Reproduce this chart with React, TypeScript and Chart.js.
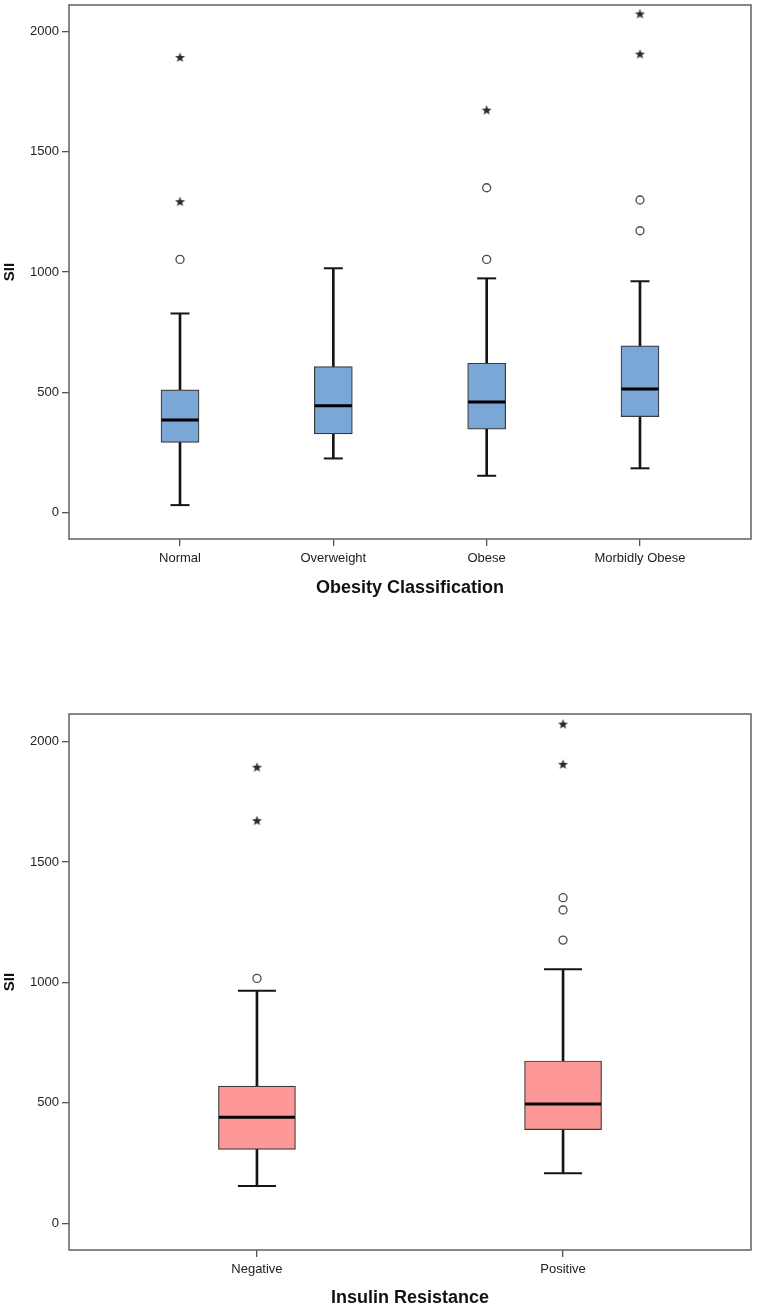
import React, { useEffect, useRef } from 'react';
import { Chart, registerables } from 'chart.js';

Chart.register(...registerables);

// ---------- Data: Obesity Classification ----------
const obesityCategories = ['Normal', 'Overweight', 'Obese', 'Morbidly Obese'];
const obesityWhiskerLow = [31, 225, 153, 184];
const obesityQ1 = [292, 327, 347, 399];
const obesityMedian = [385, 444, 460, 514];
const obesityQ3 = [510, 607, 621, 693];
const obesityWhiskerHigh = [828, 1016, 974, 962];
const obesityOutliers = [[1053], [], [1053, 1351], [1172, 1300]];
const obesityExtremes = [[1293, 1893], [], [1674], [1907, 2074]];

// ---------- Data: Insulin Resistance ----------
const insulinCategories = ['Negative', 'Positive'];
const insulinWhiskerLow = [155, 208];
const insulinQ1 = [307, 389];
const insulinMedian = [440, 495];
const insulinQ3 = [570, 674];
const insulinWhiskerHigh = [966, 1055];
const insulinOutliers = [[1017], [1176, 1301, 1352]];
const insulinExtremes = [[1672, 1894], [1906, 2073]];

const yTickValues = [0, 500, 1000, 1500, 2000];

const TICK_FONT = { family: "'Liberation Sans', Arial, sans-serif", size: 13 };
const TITLE_FONT = { family: "'Liberation Sans', Arial, sans-serif", size: 18, weight: 'bold' as const };
const YTITLE_FONT = { family: "'Liberation Sans', Arial, sans-serif", size: 15, weight: 'bold' as const };

function makeStar(color: string): HTMLCanvasElement {
  const c = document.createElement('canvas');
  c.width = 11;
  c.height = 11;
  const ctx = c.getContext('2d')!;
  const cx = 5.5, cy = 5.8, R = 5.3, r = 2.2;
  ctx.beginPath();
  for (let i = 0; i < 10; i++) {
    const rad = i % 2 === 0 ? R : r;
    const a = -Math.PI / 2 + (i * Math.PI) / 5;
    const px = cx + rad * Math.cos(a);
    const py = cy + rad * Math.sin(a);
    if (i === 0) ctx.moveTo(px, py);
    else ctx.lineTo(px, py);
  }
  ctx.closePath();
  ctx.fillStyle = color;
  ctx.fill();
  return c;
}

const framePlugin = {
  id: 'frame',
  beforeDatasetsDraw(chart: any) {
    const { ctx, chartArea } = chart;
    ctx.save();
    ctx.strokeStyle = '#6a6a6a';
    ctx.lineWidth = 1.6;
    ctx.strokeRect(chartArea.left, chartArea.top, chartArea.right - chartArea.left, chartArea.bottom - chartArea.top);
    ctx.restore();
  },
};

function zeroPadding(sc: any) {
  sc.paddingLeft = 0;
  sc.paddingRight = 0;
  sc.paddingTop = 0;
  sc.paddingBottom = 0;
}

interface Spec {
  categories: string[];
  low: number[];
  q1: number[];
  median: number[];
  q3: number[];
  high: number[];
  outliers: number[][];
  extremes: number[][];
  fill: string;
  boxWidth: number;
  capWidth: number;
  xMin: number;
  xMax: number;
  yMin: number;
  yMax: number;
  title: string;
  height: number;
  padTop: number;
  xAxisHeight: number;
  titlePadBottom: number;
}

function buildConfig(s: Spec): any {
  const star = makeStar('#2a2a2a');
  const pos = (i: number) => i + 1;
  const boxes = s.categories.map((_, i) => ({ x: pos(i), y: [s.q1[i], s.q3[i]] }));
  const upper = s.categories.map((_, i) => ({ x: pos(i), y: [s.q3[i], s.high[i]] }));
  const lower = s.categories.map((_, i) => ({ x: pos(i), y: [s.low[i], s.q1[i]] }));
  const medians = s.categories.map((_, i) => ({ x: pos(i), y: s.median[i] }));
  const caps: any[] = [];
  s.categories.forEach((_, i) => {
    caps.push({ x: pos(i), y: s.low[i] });
    caps.push({ x: pos(i), y: s.high[i] });
  });
  const outl: any[] = [];
  s.outliers.forEach((arr, i) => arr.forEach((v) => outl.push({ x: pos(i), y: v })));
  const ext: any[] = [];
  s.extremes.forEach((arr, i) => arr.forEach((v) => ext.push({ x: pos(i), y: v })));

  return {
    type: 'bar',
    data: {
      datasets: [
        {
          type: 'bar', data: lower, backgroundColor: '#151515', borderWidth: 0,
          barThickness: 2, grouped: false, order: 6,
        },
        {
          type: 'bar', data: upper, backgroundColor: '#151515', borderWidth: 0,
          barThickness: 2, grouped: false, order: 6,
        },
        {
          type: 'bar', data: boxes, backgroundColor: s.fill, borderColor: '#3a3a3a', borderWidth: 1.2,
          borderSkipped: false, barThickness: s.boxWidth, grouped: false, order: 5,
        },
        {
          type: 'scatter', data: medians, pointStyle: 'line', radius: s.boxWidth / 2 - 0.5,
          borderColor: '#000', borderWidth: 3, order: 1,
        },
        {
          type: 'scatter', data: caps, pointStyle: 'line', radius: s.capWidth / 2,
          borderColor: '#151515', borderWidth: 2, order: 2,
        },
        {
          type: 'scatter', data: outl, pointStyle: 'circle', radius: 4,
          backgroundColor: '#ffffff', borderColor: '#4a4a4a', borderWidth: 1.3, order: 0,
        },
        {
          type: 'scatter', data: ext, pointStyle: star, radius: 5, order: 0,
        },
      ],
    },
    options: {
      responsive: false,
      animation: false,
      events: [],
      layout: { autoPadding: false, padding: { top: s.padTop, right: 6, bottom: 0, left: 0 } },
      plugins: { legend: { display: false }, tooltip: { enabled: false } },
      scales: {
        x: {
          type: 'linear',
          min: s.xMin,
          max: s.xMax,
          offset: false,
          afterBuildTicks: (sc: any) => {
            sc.ticks = s.categories.map((_, i) => ({ value: pos(i) }));
          },
          afterFit: (sc: any) => {
            sc.height = s.xAxisHeight;
            zeroPadding(sc);
          },
          grid: {
            offset: false, drawOnChartArea: false, drawTicks: true, tickLength: 7,
            color: '#555', lineWidth: 1.3,
          },
          border: { display: false },
          ticks: {
            autoSkip: false, maxRotation: 0, padding: 5, font: TICK_FONT, color: '#222',
            callback: (v: number) => s.categories[Math.round(v) - 1] ?? '',
          },
          title: {
            display: true, text: s.title, font: TITLE_FONT, color: '#111',
            padding: { top: 0, bottom: s.titlePadBottom },
          },
        },
        y: {
          type: 'linear',
          min: s.yMin,
          max: s.yMax,
          afterBuildTicks: (sc: any) => {
            sc.ticks = yTickValues.map((v) => ({ value: v }));
          },
          afterFit: (sc: any) => {
            sc.width = 69;
            zeroPadding(sc);
          },
          grid: {
            drawOnChartArea: false, drawTicks: true, tickLength: 7, color: '#555', lineWidth: 1.3,
          },
          border: { display: false },
          ticks: {
            padding: 3, font: TICK_FONT, color: '#222',
            callback: (v: number) => String(v),
          },
          title: {
            display: true, text: 'SII', font: YTITLE_FONT, color: '#111',
            padding: { top: 1, bottom: 0 },
          },
        },
      },
    },
    plugins: [framePlugin],
  };
}

const obesitySpec: Spec = {
  categories: obesityCategories,
  low: obesityWhiskerLow,
  q1: obesityQ1,
  median: obesityMedian,
  q3: obesityQ3,
  high: obesityWhiskerHigh,
  outliers: obesityOutliers,
  extremes: obesityExtremes,
  fill: '#7AA7D6',
  boxWidth: 38,
  capWidth: 19,
  xMin: 0.276,
  xMax: 4.724,
  yMin: -110,
  yMax: 2111,
  title: 'Obesity Classification',
  height: 620,
  padTop: 5,
  xAxisHeight: 81,
  titlePadBottom: 21.5,
};

const insulinSpec: Spec = {
  categories: insulinCategories,
  low: insulinWhiskerLow,
  q1: insulinQ1,
  median: insulinMedian,
  q3: insulinQ3,
  high: insulinWhiskerHigh,
  outliers: insulinOutliers,
  extremes: insulinExtremes,
  fill: '#FE9898',
  boxWidth: 77,
  capWidth: 38,
  xMin: 0.386,
  xMax: 2.614,
  yMin: -111,
  yMax: 2115,
  title: 'Insulin Resistance',
  height: 657,
  padTop: 64,
  xAxisHeight: 57,
  titlePadBottom: -1.5,
};

function BoxChart({ spec, top }: { spec: Spec; top: number }) {
  const ref = useRef<HTMLCanvasElement>(null);
  useEffect(() => {
    const chart = new Chart(ref.current as HTMLCanvasElement, buildConfig(spec));
    return () => chart.destroy();
  }, [spec]);
  return (
    <canvas
      ref={ref}
      width={757}
      height={spec.height}
      style={{ position: 'absolute', left: 0, top, width: 757, height: spec.height, display: 'block' }}
    />
  );
}

export default function App() {
  return (
    <div style={{ position: 'absolute', left: 0, top: 0, width: 757, height: 1307, background: '#fff' }}>
      <BoxChart spec={obesitySpec} top={0} />
      <BoxChart spec={insulinSpec} top={650} />
    </div>
  );
}
